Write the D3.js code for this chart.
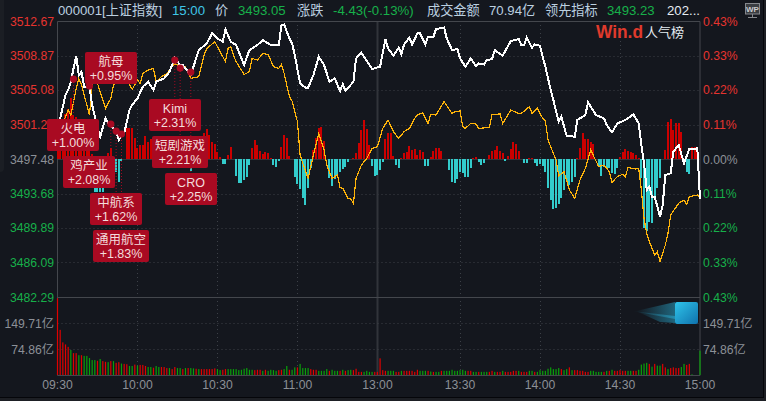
<!DOCTYPE html>
<html>
<head>
<meta charset="utf-8">
<script src="https://cdn.jsdelivr.net/npm/d3@7"></script>
<style>
  html, body { margin: 0; padding: 0; background: #14171e; overflow: hidden; }
  text { font-family: "Liberation Sans", "Noto Sans CJK SC", sans-serif; }
</style>
</head>
<body>
<div id="chart"></div>
<script>
// previous close, everything in the price panel is measured from it
const prevClose = 3497.48;

const priceTicks = [3512.67, 3508.87, 3505.08, 3501.27, 3497.48, 3493.68, 3489.89, 3486.09, 3482.29];
const pctTicks = ["0.43%", "0.33%", "0.22%", "0.11%", "0.00%", "0.11%", "0.22%", "0.33%", "0.43%"];
const volumeTicks = [149.71, 74.86];
const timeLabels = ["09:30", "10:00", "10:30", "11:00", "13:00", "13:30", "14:00", "14:30", "15:00"];
const timeMinutes = [0, 30, 60, 90, 120, 151, 181, 211, 241];

// index line, minutes from the open and points from the previous close
const indexMinutes = [0, 3, 4, 5, 7, 8, 9, 10, 12, 13, 15, 16, 18, 19, 20, 22, 23, 25, 27, 28, 30, 32, 34, 36, 37, 40, 42, 44, 46, 47, 50, 53, 56, 58, 60, 62, 63, 65, 67, 70, 72, 75, 77, 80, 83, 84, 85, 87, 88, 89, 91, 93, 94, 96, 98, 100, 102, 104, 106, 107, 108, 111, 112, 114, 117, 118, 121, 123, 124, 126, 128, 129, 130, 132, 133, 135, 136, 138, 139, 141, 142, 145, 146, 148, 150, 151, 153, 155, 157, 158, 160, 161, 163, 164, 167, 170, 173, 174, 175, 176, 178, 179, 181, 182, 183, 185, 186, 188, 189, 191, 194, 195, 198, 199, 202, 205, 206, 208, 210, 213, 216, 218, 219, 220, 221, 222, 223, 224, 226, 227, 228, 230, 231, 233, 235, 237, 240, 241];
const indexChange = [3.19, 7.04, 7.59, 8.51, 11.37, 9.24, 9.6, 7.96, 7.96, 5.94, 3.37, 2.46, 4.47, 3.92, 3.74, 3.0, 2.09, 2.82, 5.39, 5.94, 6.67, 7.96, 8.51, 7.59, 8.51, 8.87, 9.61, 11.07, 10.34, 10.34, 9.24, 11.99, 12.72, 13.82, 13.27, 12.91, 14.26, 12.91, 12.54, 10.34, 11.99, 12.54, 13.09, 12.54, 12.54, 14.74, 14.81, 13.27, 12.72, 11.44, 8.32, 7.85, 7.85, 9.24, 11.26, 10.34, 8.51, 8.87, 7.48, 8.25, 7.48, 8.51, 11.07, 11.7, 10.34, 9.9, 10.16, 13.2, 12.17, 11.37, 12.25, 11.51, 12.61, 13.35, 12.61, 13.82, 13.82, 12.61, 13.46, 13.46, 14.3, 14.48, 13.27, 11.99, 12.1, 11.07, 10.16, 11.07, 10.23, 10.52, 10.41, 10.89, 11.0, 11.99, 11.37, 12.98, 13.2, 12.54, 12.54, 13.35, 12.25, 12.61, 12.47, 11.26, 10.16, 7.59, 6.49, 4.11, 4.66, 2.53, 2.46, 4.29, 4.84, 6.23, 4.84, 4.47, 3.74, 2.93, 3.92, 4.29, 4.91, 3.92, 1.54, -0.48, -3.41, -3.04, -4.14, -4.14, -6.34, -5.06, -1.76, -1.58, 0.81, 1.54, -0.48, 1.1, 1.17, -4.43];

// leading indicator line
const leadMinutes = [2, 4, 5, 7, 8, 9, 12, 13, 15, 18, 20, 21, 24, 27, 28, 30, 31, 32, 34, 36, 37, 39, 41, 44, 46, 48, 50, 53, 55, 56, 59, 62, 63, 64, 65, 66, 67, 70, 72, 73, 75, 77, 79, 81, 83, 84, 85, 87, 88, 90, 91, 92, 94, 96, 98, 100, 101, 103, 105, 106, 107, 109, 110, 111, 112, 114, 116, 118, 120, 122, 124, 126, 128, 130, 132, 134, 135, 137, 139, 140, 142, 145, 148, 149, 151, 152, 153, 155, 157, 158, 162, 163, 166, 167, 170, 173, 174, 177, 178, 180, 182, 183, 184, 187, 188, 190, 192, 194, 196, 198, 200, 203, 205, 207, 208, 210, 212, 213, 214, 217, 218, 219, 220, 221, 222, 224, 225, 226, 228, 229, 230, 233, 235, 236, 237, 240, 241];
const leadChange = [3.92, 5.39, 4.84, 7.77, 8.87, 8.14, 4.84, 8.32, 8.32, 5.57, 6.67, 8.14, 8.87, 8.21, 7.66, 8.69, 8.32, 9.42, 9.79, 9.97, 8.51, 9.06, 9.42, 10.52, 10.16, 10.16, 8.87, 9.06, 11.44, 12.17, 12.91, 11.26, 10.71, 12.17, 12.36, 11.44, 10.71, 9.31, 9.61, 11.07, 10.89, 11.62, 11.51, 10.16, 9.97, 10.41, 9.42, 6.86, 6.38, 4.11, 0.44, -0.48, -2.13, 0.44, 2.82, 0.99, -0.66, -2.13, -1.76, -3.15, -3.23, -4.33, -4.4, -4.88, -2.13, -0.66, 0.07, 1.17, 1.36, 3.37, 4.29, 3.01, 2.27, 3.01, 3.37, 4.47, 4.84, 5.1, 3.92, 4.91, 4.84, 6.31, 5.02, 5.21, 5.28, 3.56, 3.37, 3.92, 3.85, 3.37, 3.48, 4.91, 4.95, 3.92, 5.39, 5.02, 5.02, 5.76, 5.02, 5.57, 4.47, 4.18, 2.09, -0.11, -1.83, -1.39, -3.41, -4.33, -2.31, -1.03, 0.99, -0.84, -0.66, -1.39, -2.57, -1.94, -1.69, -1.94, -0.95, -1.1, -1.03, -3.41, -6.53, -8.18, -9.09, -10.56, -10.19, -11.29, -9.46, -8.18, -6.16, -4.88, -4.51, -4.99, -4.14, -3.96, -4.25];

// red and teal bars around the zero line, one per minute slot
const strength = [
  10, 14, 24, 45, 50, 61, 44, 42, 30, 25,
  18, 12, 8, 5, -33, -33, -33, -33, 1, 6,
  11, 0, -13, -23, -2, 0, 31, 31, 31, 21,
  11, 14, 14, 23, 17, 20, 14, 16, 22, 18,
  10, 14, 18, 21, 15, 8, 5, 10, 6, 3,
  -12, -4, 3, 10, 18, 26, 30, 24, 17, 15,
  7, 2, -5, -5, 4, 12, 0, -17, -24, -24,
  -21, -18, -6, 11, 19, 14, 8, 5, 7, 6,
  1, -6, -8, -2, 12, 24, 21, 3, 0, -18,
  -25, -30, -39, -46, -29, -9, 9, 21, 31, 32,
  18, 0, -19, -27, -20, -16, -13, -10, -8, -3,
  0, 1, 6, 16, 29, 39, 30, 14, -7, -17,
  -16, -11, -3, 20, 26, 26, 3, -6, -9, 1,
  6, 7, 13, 9, 10, 4, 9, 7, -7, -7,
  2, 8, 11, 11, 8, 0, 0, -11, -23, -24,
  -20, -13, -14, -18, -18, -9, 1, 2, -3, -6,
  -4, 0, 4, 8, 9, 13, 8, 6, -2, 3,
  10, 17, 15, 8, 0, -4, -4, 1, 1, -4,
  -7, -5, -7, -13, -29, -41, -50, -49, -45, -39,
  -31, -22, -26, -23, -18, 1, 11, 26, 20, 20,
  17, 15, 0, -8, -17, -8, -9, -9, -14, -15,
  -9, 2, 7, 10, 8, 7, 6, 4, 1, -19,
  -69, -72, -63, -64, -38, -29, -19, 0, 9, 37,
  40, 29, 36, 36, 27, 0, -13, -15, 12, 12,
  12, 0
];

// turnover per minute, 亿
const volumes = [
  221, 130, 94, 88, 81, 72, 63, 63, 57, 57,
  55, 55, 49, 43, 43, 41, 46, 40, 38, 37,
  40, 40, 35, 37, 33, 32, 31, 26, 26, 30,
  27, 29, 29, 26, 23, 23, 21, 26, 23, 23,
  23, 20, 20, 17, 23, 20, 20, 17, 20, 20,
  20, 19, 18, 17, 17, 17, 17, 17, 17, 19,
  17, 14, 15, 17, 17, 17, 17, 17, 14, 15,
  18, 20, 15, 15, 14, 15, 15, 12, 15, 12,
  15, 14, 12, 14, 15, 17, 26, 15, 15, 22,
  22, 32, 20, 20, 20, 17, 15, 15, 12, 12,
  12, 17, 12, 15, 12, 12, 12, 15, 12, 14,
  15, 14, 18, 9, 9, 9, 12, 9, 9, 9,
  9, 48, 14, 12, 12, 12, 12, 9, 9, 12,
  12, 12, 12, 12, 9, 15, 12, 12, 12, 12,
  10, 9, 9, 9, 12, 12, 12, 12, 15, 12,
  12, 14, 15, 12, 12, 12, 9, 9, 9, 9,
  9, 9, 9, 12, 9, 9, 9, 12, 9, 9,
  9, 12, 12, 12, 9, 9, 9, 12, 12, 9,
  9, 14, 12, 12, 18, 22, 17, 17, 20, 17,
  14, 17, 22, 14, 14, 14, 12, 12, 9, 9,
  12, 12, 9, 9, 9, 9, 12, 12, 15, 12,
  12, 14, 12, 12, 12, 12, 12, 12, 15, 30,
  33, 35, 32, 24, 32, 27, 27, 32, 22, 17,
  20, 22, 20, 20, 23, 32, 29, 32, 2, 0,
  0, 70
];
const volumeDir = (
  "rrrrrgrrgr" + "gggggrgrrg" + "rgrrgrrggr" + "grrrggrggr" + "rrgrrggrgr" +
  "ggrgrrrrrr" + "ggrrgggggg" + "ggggrrrgrg" + "gggrrggrgg" + "rggggrrrgg" +
  "ggrgggrgrg" + "grrrrggggr" + "rrrrgggrrg" + "rrrrrrgggr" + "grggrggggg" +
  "ggggrrggrg" + "ggrrgrrgrr" + "rrrgrrrggr" + "gggggggggr" + "ggrgrrrrrr" +
  "gggggrgrgr" + "rrrrggrrgg" + "ggrgrggrrg" + "rrrrggrrgg" + "gg"
).split("");

// hot topic callouts
const topicNames = ["火电", "航母", "鸡产业", "中航系", "通用航空", "Kimi", "短剧游戏", "CRO"];
const topicPcts = ["+1.00%", "+0.95%", "+2.08%", "+1.62%", "+1.83%", "+2.31%", "+2.21%", "+2.25%"];
const topicMinutes = [6, 12, 20, 22, 24, 44, 46, 50];
const topicChange = [8.8, 8.03, 3.85, 3.08, 2.75, 10.89, 10.01, 9.57];

// where each callout box sits, left / top / width in pixels
const boxLeft = [47, 85, 63, 90, 93, 149, 152, 165];
const boxTop = [119, 52, 156, 193, 230, 99, 136, 173];
const boxWidth = [52, 52, 52, 52, 56, 52, 56, 52];

const width = 766, height = 401;
const plotLeft = 57.5, plotRight = 700, plotTop = 21, plotMid = 297, plotBottom = 375;

const svg = d3.select("#chart").append("svg")
  .attr("width", width)
  .attr("height", height)
  .style("display", "block");

svg.append("rect").attr("width", width).attr("height", height).attr("fill", "#14171e");
// window edges
svg.append("rect").attr("x", -6).attr("y", -6).attr("width", 10).attr("height", 178).attr("rx", 4).attr("fill", "#1b1e24");
svg.append("rect").attr("x", 0).attr("y", 397).attr("width", width).attr("height", 1).attr("fill", "#05060a");
svg.append("rect").attr("x", 0).attr("y", 398).attr("width", width).attr("height", 3).attr("fill", "#1d1f24");
svg.append("rect").attr("x", 763).attr("y", 0).attr("width", 1).attr("height", 398).attr("fill", "#05060a");
svg.append("rect").attr("x", 764).attr("y", 0).attr("width", 2).attr("height", 398).attr("fill", "#1d1f24");

const x = d3.scaleLinear().domain([0, 241]).range([plotLeft, plotRight]);
const y = d3.scaleLinear().domain([priceTicks[8], priceTicks[0]]).range([plotMid, plotTop]);
const yStrength = d3.scaleLinear().domain([-138, 138]).range([plotMid, plotTop]);
const yVol = d3.scaleLinear().domain([0, 224.6]).range([plotBottom, plotMid]);

const gridColor = "#3c4047";

// grid
const grid = svg.append("g");
grid.selectAll(".hgrid").data(priceTicks.slice(1, 8)).enter().append("line")
  .attr("x1", plotLeft).attr("x2", plotRight)
  .attr("y1", d => Math.round(y(d)) + 0.5).attr("y2", d => Math.round(y(d)) + 0.5)
  .attr("stroke", (d, i) => i == 3 ? "#33363c" : gridColor)
  .attr("stroke-dasharray", (d, i) => i == 3 ? null : "1,3");
grid.selectAll(".vgrid").data(timeMinutes.slice(1, 8)).enter().append("line")
  .attr("x1", d => Math.round(x(d)) + 0.5).attr("x2", d => Math.round(x(d)) + 0.5)
  .attr("y1", plotTop).attr("y2", plotBottom)
  .attr("stroke", d => d == 120 ? "#31343a" : gridColor)
  .attr("stroke-width", d => d == 120 ? 2 : 1)
  .attr("stroke-dasharray", d => d == 120 ? null : "1,3");
grid.selectAll(".vol").data(volumeTicks).enter().append("line")
  .attr("x1", plotLeft).attr("x2", plotRight)
  .attr("y1", d => Math.round(yVol(d)) + 0.5).attr("y2", d => Math.round(yVol(d)) + 0.5)
  .attr("stroke", gridColor).attr("stroke-dasharray", "1,3");

// panel frame
[[plotLeft, plotTop, plotRight, plotTop], [plotLeft, plotMid, plotRight, plotMid], [plotLeft, plotBottom, plotRight, plotBottom],
 [plotLeft, plotTop, plotLeft, plotBottom], [plotRight, plotTop, plotRight, plotBottom]].forEach(function (p) {
  grid.append("line")
    .attr("x1", p[0]).attr("y1", Math.floor(p[1]) + 0.5)
    .attr("x2", p[2]).attr("y2", Math.floor(p[3]) + 0.5)
    .attr("stroke", "#44474d");
});

// strength bars
svg.append("g").attr("shape-rendering", "crispEdges")
  .selectAll("rect").data(strength).enter().append("rect")
  .attr("x", (d, i) => Math.round(x(i)) - 1)
  .attr("width", 2)
  .attr("y", d => d > 0 ? yStrength(d) : yStrength(0))
  .attr("height", d => Math.abs(yStrength(d) - yStrength(0)))
  .attr("fill", d => d > 0 ? "#cc0000" : "#33cccc");

// volume bars
svg.append("g")
  .selectAll("rect").data(volumes).enter().append("rect")
  .attr("x", (d, i) => x(i) - 0.6)
  .attr("width", 1.2)
  .attr("y", d => yVol(d))
  .attr("height", d => yVol(0) - yVol(d))
  .attr("fill", (d, i) => volumeDir[i] == "r" ? "#e00000" : "#0aa00a");

// price lines
const lineGen = d3.line()
  .x(d => x(d[0]))
  .y(d => y(prevClose + d[1]));

svg.append("path")
  .attr("d", lineGen(leadMinutes.map((m, i) => [m, leadChange[i]])))
  .attr("fill", "none").attr("stroke", "#ffb40a").attr("stroke-width", 1.2)
  .attr("shape-rendering", "crispEdges");
svg.append("path")
  .attr("d", lineGen(indexMinutes.map((m, i) => [m, indexChange[i]])))
  .attr("fill", "none").attr("stroke", "#ffffff").attr("stroke-width", 2)
  .attr("shape-rendering", "crispEdges");

// axis labels
function tickColor(i) {
  if (i < 4) return "#e6342f";
  if (i == 4) return "#8c9097";
  return "#17b04a";
}
svg.append("g").selectAll("text").data(priceTicks).enter().append("text")
  .attr("x", 54).attr("y", d => y(d) + 4.5)
  .attr("text-anchor", "end").attr("font-size", 12.2)
  .attr("fill", (d, i) => tickColor(i))
  .text(d => d.toFixed(2));
svg.append("g").selectAll("text").data(pctTicks).enter().append("text")
  .attr("x", 703).attr("y", (d, i) => y(priceTicks[i]) + 4.5)
  .attr("font-size", 12.2)
  .attr("fill", (d, i) => tickColor(i))
  .text(d => d);
svg.append("g").selectAll("text").data(volumeTicks).enter().append("text")
  .attr("x", 54).attr("y", d => yVol(d) + 4.5)
  .attr("text-anchor", "end").attr("font-size", 12.2).attr("fill", "#8c9097")
  .text(d => d + "亿");
svg.append("g").selectAll("text").data(volumeTicks).enter().append("text")
  .attr("x", 703).attr("y", d => yVol(d) + 4.5)
  .attr("font-size", 12.2).attr("fill", "#8c9097")
  .text(d => d + "亿");
svg.append("g").selectAll("text").data(timeLabels).enter().append("text")
  .attr("x", (d, i) => x(timeMinutes[i]))
  .attr("y", 389)
  .attr("text-anchor", "middle").attr("font-size", 12.2).attr("fill", "#8c9097")
  .text(d => d);

// header strip
const headerItems = [
  ["000001[上证指数]", 58, "#bcd0e0"],
  ["15:00", 172, "#3fc6e8"],
  ["价", 215, "#bcd0e0"],
  ["3493.05", 238, "#17b04a"],
  ["涨跌", 297, "#bcd0e0"],
  ["-4.43(-0.13%)", 333, "#17b04a"],
  ["成交金额", 427, "#bcd0e0"],
  ["70.94亿", 489, "#bcd0e0"],
  ["领先指标", 545, "#bcd0e0"],
  ["3493.23", 607, "#17b04a"],
  ["202...", 667, "#e6edf2"]
];
svg.append("g").selectAll("text").data(headerItems).enter().append("text")
  .attr("x", d => d[1]).attr("y", 15)
  .attr("font-size", 13.2).attr("fill", d => d[2])
  .text(d => d[0]);

// Wind logo
svg.append("text").attr("x", 596).attr("y", 38)
  .attr("font-size", 19).attr("font-weight", "bold")
  .attr("textLength", 47).attr("lengthAdjust", "spacingAndGlyphs")
  .attr("fill", "#e03a2c").text("Win.d");
svg.append("text").attr("x", 645).attr("y", 37)
  .attr("font-size", 13).attr("fill", "#e4edf2").text("人气榜");

// WP button
const wp = svg.append("g");
wp.append("rect").attr("x", 745.5).attr("y", 3.5).attr("width", 14).attr("height", 10.5)
  .attr("fill", "#3a3d42").attr("stroke", "#85888d");
wp.append("text").attr("x", 752.5).attr("y", 12).attr("text-anchor", "middle")
  .attr("font-size", 8).attr("font-weight", "bold").attr("fill", "#c9cbce").text("WP");
wp.append("line").attr("x1", 752.5).attr("x2", 752.5).attr("y1", 14).attr("y2", 17).attr("stroke", "#85888d");
wp.append("line").attr("x1", 748).attr("x2", 757).attr("y1", 17.5).attr("y2", 17.5).attr("stroke", "#85888d");

// scroll cube with its tail
const defs = svg.append("defs");
const tail = defs.append("linearGradient").attr("id", "tail");
tail.append("stop").attr("offset", "0%").attr("stop-color", "#2bb4dc").attr("stop-opacity", 0);
tail.append("stop").attr("offset", "100%").attr("stop-color", "#2bb4dc").attr("stop-opacity", 0.5);
const cube = defs.append("linearGradient").attr("id", "cube")
  .attr("x1", "0%").attr("y1", "0%").attr("x2", "100%").attr("y2", "100%");
cube.append("stop").attr("offset", "0%").attr("stop-color", "#2fc4ea");
cube.append("stop").attr("offset", "100%").attr("stop-color", "#0f72ad");
svg.append("path").attr("d", "M636,311 L675,302 L675,323 L660,322 Z").attr("fill", "url(#tail)");
svg.append("path").attr("d", "M632,311 L675,316 L675,319 Z").attr("fill", "url(#tail)");
svg.append("rect").attr("x", 675).attr("y", 302).attr("width", 23).attr("height", 22)
  .attr("rx", 2).attr("fill", "url(#cube)");

// callouts: connector, dot, box, two lines of text
const topics = topicNames.map((name, i) => ({
  name: name, pct: topicPcts[i], minute: topicMinutes[i], change: topicChange[i],
  left: boxLeft[i], top: boxTop[i], width: boxWidth[i]
}));
const boxColor = "#a90a22";

svg.append("g").selectAll("line").data(topics).enter().append("line")
  .attr("x1", d => x(d.minute)).attr("x2", d => x(d.minute))
  .attr("y1", d => y(prevClose + d.change))
  .attr("y2", d => d.top)
  .attr("stroke", boxColor).attr("stroke-dasharray", "1,2");
svg.append("g").selectAll("circle").data(topics).enter().append("circle")
  .attr("cx", d => x(d.minute))
  .attr("cy", d => y(prevClose + d.change))
  .attr("r", 3.6).attr("fill", boxColor);

const box = svg.append("g").selectAll("g").data(topics).enter().append("g");
box.append("rect")
  .attr("x", d => d.left).attr("y", d => d.top)
  .attr("width", d => d.width).attr("height", 32)
  .attr("rx", 2).attr("fill", boxColor);
box.append("text")
  .attr("x", d => d.left + d.width / 2).attr("y", d => d.top + 13.5)
  .attr("text-anchor", "middle").attr("font-size", 12.5).attr("fill", "#f3dcdc")
  .text(d => d.name);
box.append("text")
  .attr("x", d => d.left + d.width / 2).attr("y", d => d.top + 28)
  .attr("text-anchor", "middle").attr("font-size", 12.5).attr("fill", "#f3dcdc")
  .text(d => d.pct);
</script>
</body>
</html>
